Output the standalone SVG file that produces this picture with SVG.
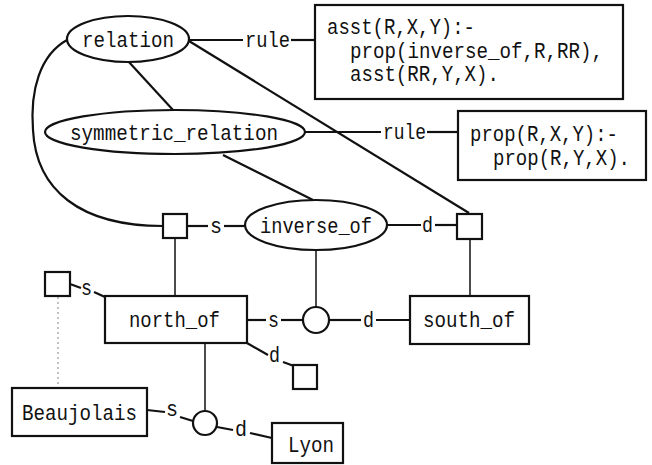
<svg xmlns="http://www.w3.org/2000/svg" width="652" height="465" viewBox="0 0 652 465">
  <style>
    text { font-family: "Liberation Mono", "DejaVu Sans Mono", monospace; font-size: 22px; fill: #111; }
    .shape { fill: #fff; stroke: #111; stroke-width: 2.2; }
    .link { fill: none; stroke: #111; stroke-width: 2.2; }
    .thin { fill: none; stroke: #111; stroke-width: 1.5; }
    .dots { fill: none; stroke: #999; stroke-width: 1.2; stroke-dasharray: 2 3; }
  </style>
  <rect width="652" height="465" fill="#fff"/>

  <!-- connectors -->
  <g id="connectors">
    <!-- relation, rule label, rule box -->
    <line class="link" x1="189" y1="40" x2="243" y2="40"/>
    <text x="245" y="47" textLength="45" lengthAdjust="spacingAndGlyphs">rule</text>
    <line class="link" x1="291" y1="40" x2="315" y2="40"/>
    <!-- relation to symmetric_relation -->
    <line class="link" x1="128" y1="61" x2="173" y2="110"/>
    <!-- relation to the d square -->
    <line class="link" x1="189" y1="41" x2="469" y2="213"/>
    <!-- relation curve to the s square -->
    <path class="link" d="M67,40 C40,55 30,90 33,130 C36,190 80,226 163,226"/>
    <!-- symmetric_relation, rule label, rule box -->
    <line class="link" x1="305" y1="132" x2="381" y2="132"/>
    <text x="383" y="139" textLength="43" lengthAdjust="spacingAndGlyphs">rule</text>
    <line class="link" x1="427" y1="132" x2="458" y2="132"/>
    <!-- symmetric_relation to inverse_of -->
    <line class="link" x1="223" y1="155" x2="313" y2="200"/>
    <!-- s square, s label, inverse_of -->
    <line class="link" x1="187" y1="226" x2="208" y2="226"/>
    <text x="210" y="233" textLength="12" lengthAdjust="spacingAndGlyphs">s</text>
    <line class="link" x1="224" y1="226" x2="246" y2="226"/>
    <!-- inverse_of, d label, d square -->
    <line class="link" x1="387" y1="225" x2="421" y2="225"/>
    <text x="422" y="232" textLength="11" lengthAdjust="spacingAndGlyphs" fill="#888">d</text>
    <line class="link" x1="435" y1="225" x2="457" y2="225"/>
    <!-- verticals from the squares -->
    <line class="thin" x1="175" y1="238" x2="175" y2="296"/>
    <line class="thin" x1="470" y1="239" x2="470" y2="296"/>
    <!-- inverse_of to the junction circle -->
    <line class="thin" x1="316" y1="250" x2="316" y2="307"/>
    <!-- north_of, s, circle, d, south_of -->
    <line class="link" x1="247" y1="320" x2="266" y2="320"/>
    <text x="268" y="327" textLength="11" lengthAdjust="spacingAndGlyphs">s</text>
    <line class="link" x1="281" y1="320" x2="303" y2="320"/>
    <line class="link" x1="329" y1="320" x2="361" y2="320"/>
    <text x="363" y="327" textLength="11" lengthAdjust="spacingAndGlyphs">d</text>
    <line class="link" x1="376" y1="320" x2="410" y2="320"/>
    <!-- small square, s, north_of -->
    <line class="link" x1="70" y1="284" x2="81" y2="288"/>
    <text x="81" y="295" textLength="11" lengthAdjust="spacingAndGlyphs">s</text>
    <line class="link" x1="94" y1="292" x2="105" y2="297"/>
    <!-- dotted link to Beaujolais -->
    <line class="dots" x1="58" y1="297" x2="58" y2="386"/>
    <!-- north_of, d, small square -->
    <line class="link" x1="247" y1="343" x2="268" y2="355"/>
    <text x="269" y="362" textLength="11" lengthAdjust="spacingAndGlyphs">d</text>
    <line class="link" x1="283" y1="362" x2="294" y2="366"/>
    <!-- north_of to the lower circle -->
    <line class="thin" x1="205" y1="343" x2="205" y2="411"/>
    <!-- Beaujolais, s, circle, d, Lyon -->
    <line class="link" x1="147" y1="410" x2="165" y2="412"/>
    <text x="166" y="416" textLength="12" lengthAdjust="spacingAndGlyphs">s</text>
    <line class="link" x1="180" y1="417" x2="193" y2="421"/>
    <line class="link" x1="217" y1="427" x2="233" y2="430"/>
    <text x="235" y="436" textLength="12" lengthAdjust="spacingAndGlyphs">d</text>
    <line class="link" x1="250" y1="433" x2="272" y2="438"/>
  </g>

  <!-- nodes -->
  <g id="relation">
    <ellipse class="shape" cx="128" cy="39" rx="61" ry="23"/>
    <text x="82" y="47" textLength="92" lengthAdjust="spacingAndGlyphs">relation</text>
  </g>
  <g id="rule-inverse">
    <rect class="shape" x="315" y="5" width="308" height="94"/>
    <text x="327" y="34" textLength="148" lengthAdjust="spacingAndGlyphs">asst(R,X,Y):-</text>
    <text x="350" y="58" textLength="253" lengthAdjust="spacingAndGlyphs">prop(inverse_of,R,RR),</text>
    <text x="350" y="81" textLength="149" lengthAdjust="spacingAndGlyphs">asst(RR,Y,X).</text>
  </g>
  <g id="symmetric_relation">
    <ellipse class="shape" cx="175" cy="132" rx="130" ry="22"/>
    <text x="70" y="140" textLength="208" lengthAdjust="spacingAndGlyphs">symmetric_relation</text>
  </g>
  <g id="rule-symmetric">
    <rect class="shape" x="458" y="111" width="188" height="69"/>
    <text x="470" y="141" textLength="148" lengthAdjust="spacingAndGlyphs">prop(R,X,Y):-</text>
    <text x="493" y="165" textLength="137" lengthAdjust="spacingAndGlyphs">prop(R,Y,X).</text>
  </g>
  <g id="inverse_of">
    <ellipse class="shape" cx="316" cy="225" rx="71" ry="25"/>
    <text x="260" y="233" textLength="112" lengthAdjust="spacingAndGlyphs">inverse_of</text>
  </g>
  <g id="square-s">
    <rect class="shape" x="163" y="214" width="24" height="24"/>
  </g>
  <g id="square-d">
    <rect class="shape" x="457" y="214" width="25" height="25"/>
  </g>
  <g id="north_of">
    <rect class="shape" x="105" y="296" width="142" height="47"/>
    <text x="129" y="327" textLength="91" lengthAdjust="spacingAndGlyphs">north_of</text>
  </g>
  <g id="junction-upper">
    <circle class="shape" cx="316" cy="320" r="13"/>
  </g>
  <g id="south_of">
    <rect class="shape" x="410" y="296" width="119" height="48"/>
    <text x="423" y="327" textLength="92" lengthAdjust="spacingAndGlyphs">south_of</text>
  </g>
  <g id="square-north-s">
    <rect class="shape" x="45" y="272" width="25" height="24"/>
  </g>
  <g id="square-north-d">
    <rect class="shape" x="293" y="365" width="24" height="24"/>
  </g>
  <g id="junction-lower">
    <circle class="shape" cx="205" cy="423" r="12"/>
  </g>
  <g id="Beaujolais">
    <rect class="shape" x="12" y="388" width="135" height="48"/>
    <text x="22" y="420" textLength="115" lengthAdjust="spacingAndGlyphs">Beaujolais</text>
  </g>
  <g id="Lyon">
    <rect class="shape" x="272" y="423" width="71" height="40"/>
    <text x="288" y="452" textLength="46" lengthAdjust="spacingAndGlyphs">Lyon</text>
  </g>
</svg>
